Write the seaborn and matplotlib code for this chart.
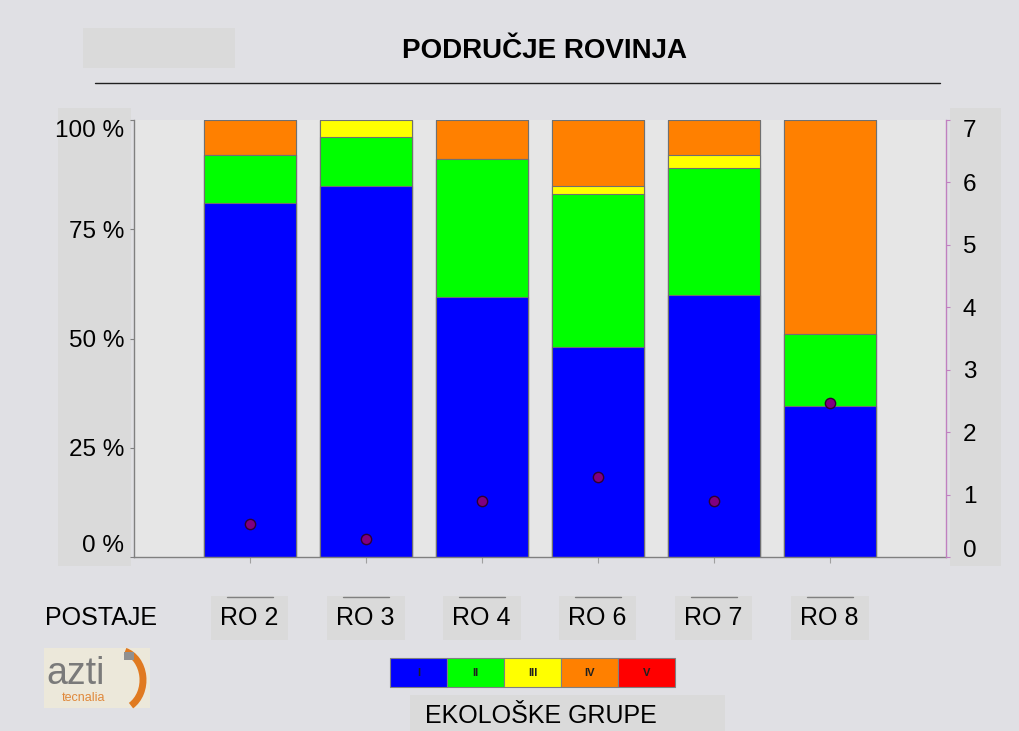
import numpy as np
import pandas as pd
import matplotlib
matplotlib.use("Agg")
import matplotlib.pyplot as plt
import matplotlib.transforms as mtransforms
from matplotlib.patches import Rectangle, Arc
from matplotlib.lines import Line2D
import seaborn as sns

# Stations and ecological-group composition (% of individuals)
stations = ["RO 2", "RO 3", "RO 4", "RO 6", "RO 7", "RO 8"]
groups = ["I", "II", "III", "IV", "V"]
grp_I = [81.0, 85.0, 59.5, 48.0, 60.0, 34.5]
grp_II = [11.0, 11.0, 31.5, 35.0, 29.0, 16.5]
grp_III = [0.0, 4.0, 0.0, 2.0, 3.0, 0.0]
grp_IV = [8.0, 0.0, 9.0, 15.0, 8.0, 49.0]
grp_V = [0.0, 0.0, 0.0, 0.0, 0.0, 0.0]
# Biotic index per station (right axis)
index_values = [0.53, 0.29, 0.89, 1.28, 0.90, 2.46]

group_colors = ["#0000ff", "#00ff00", "#ffff00", "#ff8000", "#ff0000"]
fig_bg = "#e0e0e4"
plot_bg = "#e6e6e6"
box_bg = "#dadada"

sns.set_theme(style="white")
plt.rcParams["font.family"] = ["Liberation Sans", "DejaVu Sans"]
plt.rcParams["text.color"] = "black"
plt.rcParams["xtick.color"] = "black"
plt.rcParams["ytick.color"] = "black"

W, H = 1019, 731
fig = plt.figure(figsize=(W / 100, H / 100), dpi=100, facecolor=fig_bg)


def fx(px):
    return px / W


def fy(py):
    return 1 - py / H


# background panels behind the axis labels
for (x0, y0, x1, y1) in [(58, 108, 131, 566), (950, 108, 1001, 566),
                         (83, 28, 235, 68), (410, 695, 725, 731)]:
    fig.patches.append(Rectangle((fx(x0), fy(y1)), fx(x1) - fx(x0), fy(y0) - fy(y1),
                                 transform=fig.transFigure, facecolor=box_bg,
                                 edgecolor="none", zorder=-5))

ax = fig.add_axes([fx(134), fy(557), fx(946) - fx(134), fy(120) - fy(557)])
ax.set_facecolor(plot_bg)

df = pd.DataFrame({"station": stations, "I": grp_I, "II": grp_II, "III": grp_III,
                   "IV": grp_IV, "V": grp_V})
cum = df[groups].cumsum(axis=1)

# stacked bars: draw cumulative totals from the top group down
for g, c in reversed(list(zip(groups, group_colors))):
    sns.barplot(x=df["station"], y=cum[g], color=c, saturation=1, width=0.8,
                edgecolor="#707070", linewidth=0.8, ax=ax, zorder=2)

ax.set_xlim(-1, 6)
ax.set_ylim(0, 100)
ax.set_yticks([0, 25, 50, 75, 100])
ax.set_yticklabels(["0 %", "25 %", "50 %", "75 %", "100 %"], fontsize=17.5)
ylabels = ax.get_yticklabels()
ylabels[0].set_va("bottom")
ylabels[0].set_transform(ylabels[0].get_transform()
                         + mtransforms.ScaledTranslation(0, 5 / 100, fig.dpi_scale_trans))
ylabels[-1].set_va("top")
ax.set_xlabel("")
ax.set_ylabel("")
ax.set_xticks(range(len(stations)))
ax.set_xticklabels([])
ax.tick_params(axis="y", left=True, length=3, width=0.8, color="#808080", pad=4)
ax.tick_params(axis="x", bottom=True, length=4, width=0.8, color="#a0a0a0")
for s in ["top", "right"]:
    ax.spines[s].set_visible(False)
for s in ["left", "bottom"]:
    ax.spines[s].set_color("#808080")
    ax.spines[s].set_linewidth(1.0)

# biotic index points on secondary axis
ax2 = ax.twinx()
sns.scatterplot(x=np.arange(len(stations)), y=index_values, ax=ax2, color="#800080",
                edgecolor="#300030", linewidth=1.0, s=55, zorder=5, legend=False)
ax2.set_ylim(0, 7)
ax2.set_xlim(-1, 6)
ax2.set_yticks(range(8))
ax2.set_yticklabels([str(i) for i in range(8)], fontsize=17.5)
r_labels = ax2.get_yticklabels()
r_labels[0].set_va("baseline")
r_labels[-1].set_va("top")
ax2.tick_params(axis="y", right=True, length=3, width=0.8, color="#c080c0", pad=9)
for s in ["top", "left", "bottom"]:
    ax2.spines[s].set_visible(False)
ax2.spines["right"].set_color("#c080c0")
ax2.spines["right"].set_linewidth(1.0)
ax2.grid(False)
ax.grid(False)

# station labels with their boxes
for i, st in enumerate(stations):
    cx = 249.5 + 116 * i
    fig.text(fx(cx), fy(618), st, ha="center", va="center", fontsize=18,
             bbox=dict(facecolor=box_bg, edgecolor="none", pad=7))
    fig.lines.append(Line2D([fx(cx - 23), fx(cx + 23)], [fy(597), fy(597)],
                            transform=fig.transFigure, color="#808080", lw=1,
                            zorder=6))
fig.text(fx(45), fy(618), "POSTAJE", ha="left", va="center", fontsize=18)

# title and rule
fig.text(fx(545), fy(51), "PODRUČJE ROVINJA", ha="center", va="center",
         fontsize=20, fontweight="bold")
fig.lines.append(Line2D([fx(95), fx(940)], [fy(83), fy(83)],
                        transform=fig.transFigure, color="#202020", lw=1))

# ecological group legend
lx0, lw_, ly0, ly1 = 390, 57, 658, 687
for k, (g, c) in enumerate(zip(groups, group_colors)):
    x0 = lx0 + k * lw_
    fig.patches.append(Rectangle((fx(x0), fy(ly1)), fx(lw_), fy(ly0) - fy(ly1),
                                 transform=fig.transFigure, facecolor=c,
                                 edgecolor="#808080", lw=0.8, zorder=3))
    fig.text(fx(x0 + lw_ / 2), fy((ly0 + ly1) / 2), g, ha="center", va="center",
             fontsize=8, fontweight="bold", color="#202020", zorder=4)
fig.text(fx(541), fy(716), "EKOLOŠKE GRUPE", ha="center", va="center", fontsize=18)

# logo block
fig.patches.append(Rectangle((fx(44), fy(708)), fx(106), fy(648) - fy(708),
                             transform=fig.transFigure, facecolor="#ece8da",
                             edgecolor="none", zorder=1))
fig.text(fx(46), fy(674), "azti", ha="left", va="center", fontsize=27,
         color="#7a7a7a", zorder=2)
fig.text(fx(62), fy(698), "tecnalia", ha="left", va="center", fontsize=9,
         color="#e0883a", zorder=2)
fig.patches.append(Arc((fx(118), fy(680)), fx(50), fy(650) - fy(710), theta1=-70,
                       theta2=80, transform=fig.transFigure, color="#e07a20",
                       lw=5, zorder=2))
fig.patches.append(Rectangle((fx(124), fy(660)), fx(10), fy(652) - fy(660),
                             transform=fig.transFigure, facecolor="#909090",
                             edgecolor="none", zorder=2))

fig.savefig("out.png", dpi=100, facecolor=fig_bg)
